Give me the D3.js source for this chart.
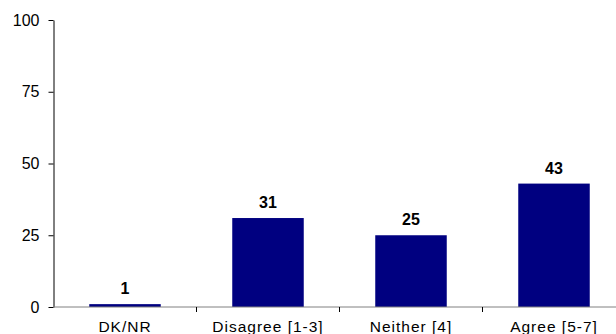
<!DOCTYPE html>
<html>
<head>
<meta charset="utf-8">
<script src="https://cdn.jsdelivr.net/npm/d3@7/dist/d3.min.js"></script>
<style>
  html, body { margin: 0; padding: 0; background: #fff; }
  svg { display: block; }
  text { font-family: "Liberation Sans", Arial, sans-serif; }
</style>
</head>
<body>
<script>
// Survey response shares (%)
const categories = ["DK/NR", "Disagree [1-3]", "Neither [4]", "Agree [5-7]"];
const values = [1, 31, 25, 43];
const yTicks = [0, 25, 50, 75, 100];

const width = 616, height = 334;
const margin = { top: 20, left: 53.5, bottom: 27 };

const svg = d3.select("body").append("svg")
  .attr("width", width).attr("height", height);

const x = d3.scaleBand()
  .domain(categories)
  .range([margin.left, margin.left + 143 * categories.length])
  .paddingInner(0.5).paddingOuter(0.25);

const y = d3.scaleLinear()
  .domain([0, 100])
  .range([height - margin.bottom, margin.top]);

// Bars
svg.append("g").selectAll("rect")
  .data(values)
  .join("rect")
  .attr("x", (d, i) => x(categories[i]))
  .attr("width", x.bandwidth())
  .attr("y", d => y(d))
  .attr("height", d => y(0) - y(d))
  .attr("fill", "#000080");

// Value labels
svg.append("g").selectAll("text")
  .data(values)
  .join("text")
  .attr("x", (d, i) => x(categories[i]) + x.bandwidth() / 2)
  .attr("y", d => y(d) - 10)
  .attr("text-anchor", "middle")
  .attr("font-size", "16px")
  .attr("font-weight", "bold")
  .attr("fill", "#000")
  .text(d => d);

// Y axis
const yAxis = svg.append("g")
  .attr("transform", `translate(${margin.left},0)`)
  .call(d3.axisLeft(y).tickValues(yTicks).tickSize(5).tickPadding(9).tickSizeOuter(0));
yAxis.select(".domain").attr("stroke", "#000");
yAxis.selectAll(".tick line").attr("stroke", "#000");
yAxis.selectAll(".tick text")
  .attr("font-size", "16px")
  .attr("fill", "#000")
  .attr("font-family", "Liberation Sans, Arial, sans-serif");

// X axis: gray baseline with tick marks between categories
const xg = svg.append("g").attr("transform", `translate(0,${y(0)})`);
xg.append("line")
  .attr("x1", margin.left).attr("x2", width)
  .attr("y1", 0).attr("y2", 0)
  .attr("stroke", "#808080").attr("stroke-width", 1);
const step = x.step();
const bounds = d3.range(1, categories.length).map(i => x(categories[i]) - (step - x.bandwidth()) / 2);
xg.selectAll("line.sep")
  .data(bounds)
  .join("line")
  .attr("class", "sep")
  .attr("x1", d => d).attr("x2", d => d)
  .attr("y1", 0).attr("y2", 5)
  .attr("stroke", "#000");
xg.selectAll("text")
  .data(categories)
  .join("text")
  .attr("x", d => x(d) + x.bandwidth() / 2)
  .attr("y", 25)
  .attr("text-anchor", "middle")
  .attr("font-size", "15.5px")
  .attr("letter-spacing", "1px")
  .attr("fill", "#000")
  .text(d => d);
</script>
</body>
</html>
